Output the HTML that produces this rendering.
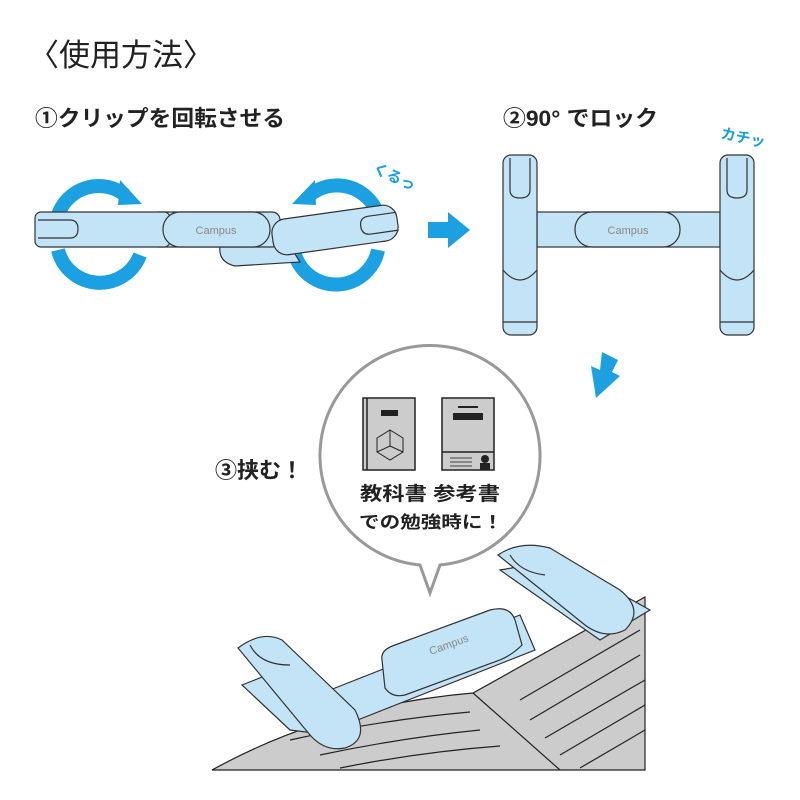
<!DOCTYPE html>
<html><head><meta charset="utf-8"><style>
html,body{margin:0;padding:0;background:#fff;}
svg{display:block;}
text{font-family:"Liberation Sans","Noto Sans CJK JP",sans-serif;}
</style></head><body>
<svg width="800" height="800" viewBox="0 0 800 800" xmlns="http://www.w3.org/2000/svg">
<text x="28" y="66" font-size="31" fill="#222">〈使用方法〉</text>
<text x="35" y="126" font-size="22" font-weight="bold" fill="#222" textLength="250" lengthAdjust="spacingAndGlyphs">①クリップを回転させる</text>
<text x="503" y="126" font-size="22" font-weight="bold" fill="#222" textLength="155" lengthAdjust="spacingAndGlyphs">②90° でロック</text>
<text x="720" y="138" font-size="15" font-weight="bold" fill="#1aa0e6" transform="rotate(12 720 138)">カチッ</text>
<text x="372" y="172" font-size="15" font-weight="bold" fill="#1aa0e6" transform="rotate(25 372 172)">くるっ</text>

<g fill="none" stroke="#1ba1e2" stroke-width="14">
<path d="M58 215 A43 43 0 0 1 125 195"/>
<path d="M140 255 A43 43 0 0 1 58 250"/>
<path d="M378 215 A43 43 0 0 0 310 195"/>
<path d="M295 255 A43 43 0 0 0 378 250"/>
</g>
<polygon points="120,180 142,204 118,205" fill="#1ba1e2"/>
<polygon points="315,180 292,204 316,205" fill="#1ba1e2"/>

<g fill="#c3e3f7" stroke="#333" stroke-width="1.2">
<path d="M220 246 L290 246 L300 262 L235 266 Q218 262 220 246Z"/>
<rect x="150" y="212" width="130" height="35" rx="8"/>
<rect x="35" y="212" width="135" height="35" rx="6"/>
<path d="M38 220 L70 220 Q78 220 78 229 Q78 238 70 238 L38 238" fill="none"/>
<rect x="163" y="212" width="107" height="35" rx="17"/>
<g transform="rotate(-8 335 230)">
<rect x="272" y="212" width="126" height="36" rx="14"/>
<path d="M398 221 L370 221 Q361 221 361 230 Q361 239 370 239 L398 239" fill="none"/>
</g>
</g>
<text x="216" y="234" font-size="11" fill="#888" text-anchor="middle">Campus</text>

<polygon points="428,222 448,222 448,212 470,230 448,248 448,238 428,238" fill="#1ba1e2"/>
<polygon points="602,352 618,360 612,372 620,376 596,398 591,366 600,370" fill="#1ba1e2"/>

<g fill="#c3e3f7" stroke="#333" stroke-width="1.2">
<rect x="537" y="212" width="183" height="35"/>
<rect x="575" y="212" width="105" height="35" rx="17"/>
<rect x="503" y="155" width="34" height="180" rx="8"/>
<rect x="720" y="155" width="34" height="180" rx="8"/>
<path d="M510 158 L510 190 Q510 198 520 198 Q530 198 530 190 L530 158" fill="none"/>
<path d="M727 158 L727 190 Q727 198 737 198 Q747 198 747 190 L747 158" fill="none"/>
<path d="M503 270 Q520 290 537 270" fill="none"/>
<path d="M720 270 Q737 290 754 270" fill="none"/>
<path d="M503 322 L537 322 M720 322 L754 322" fill="none"/>
</g>
<text x="628" y="234" font-size="11" fill="#888" text-anchor="middle">Campus</text>

<path d="M420 565 A110 110 0 1 1 440 565 L430 593 Z" fill="#fff" stroke="#999" stroke-width="3"/>
<g stroke="#222" stroke-width="1.5">
<rect x="363" y="398" width="52" height="72" fill="#ccc"/>
<line x1="367" y1="398" x2="367" y2="470"/>
<rect x="442" y="398" width="52" height="72" fill="#ccc"/>
<line x1="442" y1="452" x2="494" y2="452"/>
</g>
<rect x="381" y="410" width="17" height="6" fill="#222"/>
<path d="M390 430 L403 438 L403 452 L390 460 L377 452 L377 438 Z M390 430 L390 446 L403 452 M390 446 L377 452" fill="none" stroke="#222" stroke-width="1"/>
<rect x="458" y="406" width="20" height="2" fill="#222"/>
<rect x="453" y="413" width="30" height="7" fill="#222"/>
<path d="M450 458 H472 M450 462 H472 M450 466 H472" stroke="#444" stroke-width="1"/>
<circle cx="485" cy="459" r="4" fill="#222"/><rect x="480" y="463" width="10" height="7" fill="#222"/>
<text x="360" y="500" font-size="19" font-weight="bold" fill="#222" textLength="140" lengthAdjust="spacingAndGlyphs">教科書 参考書</text>
<text x="359" y="528" font-size="17" font-weight="bold" fill="#222" textLength="144" lengthAdjust="spacingAndGlyphs">での勉強時に！</text>
<text x="215" y="478" font-size="22" font-weight="bold" fill="#222">③挟む！</text>

<path d="M212 770 Q330 705 473 693 L645 597 L645 770 Z" fill="#cccccc" stroke="#222" stroke-width="1.2"/>
<path d="M473 693 L560 770" stroke="#222" stroke-width="1.2" fill="none"/>
<g stroke="#222" stroke-width="1.2" fill="none">
<path d="M290 740 Q380 720 470 712"/><path d="M320 755 Q400 738 480 730"/><path d="M340 768 Q420 752 500 746"/>
<path d="M520 700 L640 630"/><path d="M530 720 L640 655"/><path d="M545 738 L645 680"/><path d="M560 755 L645 705"/><path d="M580 768 L645 730"/>
</g>

<g fill="#c3e3f7" stroke="#333" stroke-width="1.2">
<path d="M330 690 L520 615 L535 650 L345 725 Z"/>
<path d="M500 570 L560 560 L650 610 L600 640 Z"/>
<path d="M242 685 L280 670 L330 735 L290 730 Z"/>
<path d="M498 555 Q520 540 550 548 L620 590 Q645 610 625 630 Q605 640 585 625 Z"/>
<path d="M238 648 Q262 630 282 640 L355 710 Q370 740 345 748 Q325 752 310 735 Z"/>
<path d="M382 660 Q380 650 395 645 L490 610 Q510 605 515 620 L522 645 Q512 655 500 660 L405 695 Q392 698 385 688 Z"/>
<path d="M250 645 Q260 665 290 665" fill="none"/>
<path d="M510 555 Q520 572 545 575" fill="none"/>
</g>
<text x="450" y="648" font-size="11" fill="#888" text-anchor="middle" transform="rotate(-20 450 648)">Campus</text>
</svg>
</body></html>
